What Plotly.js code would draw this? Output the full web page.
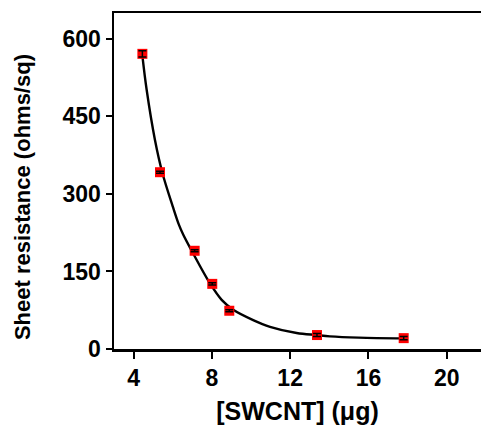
<!DOCTYPE html>
<html><head><meta charset="utf-8">
<script src="https://cdn.plot.ly/plotly-3.0.1.min.js"></script>
<style>html,body{margin:0;padding:0;overflow:hidden;background:#fff}</style>
</head><body>
<div id="chart" style="width:481px;height:429px"></div>
<script>
// Measured points
const swcnt = [4.45, 5.35, 7.12, 8.02, 8.89, 13.37, 17.8];
const resistance = [571, 342, 190, 126, 74, 27, 21];
const errs = [6, 2, 2, 2, 2, 3, 3];
// Fit curve
const fitX = [4.445, 4.67, 5.09, 5.47, 6.0, 6.32, 6.54, 6.97, 7.9, 8.5, 9.09, 10.11, 10.97, 12.33, 13.35, 14.03, 15.5, 17.8];
const fitY = [569, 501, 405, 341, 276, 240, 221, 190, 127, 95, 76, 56, 43, 31, 27, 24.5, 22, 20.5];
const xTicks = [4, 8, 12, 16, 20];
const yTicks = [0, 150, 300, 450, 600];

const fam = 'Liberation Sans, Arial, sans-serif';
const tickFont = {family: fam, size: 23, color: '#000', weight: 'bold'};
const xTitleFont = {family: fam, size: 25, color: '#000', weight: 'bold'};
const yTitleFont = {family: fam, size: 22, color: '#000', weight: 'bold'};

const traces = [
  {x: fitX, y: fitY, mode: 'lines', type: 'scatter', line: {color: '#000', width: 2.4, shape: 'spline', smoothing: 1}, hoverinfo: 'skip'},
  {x: swcnt, y: resistance, mode: 'markers', type: 'scatter',
   marker: {symbol: 'square', size: 10, color: '#ff0000', line: {width: 0}}},
  {x: swcnt, y: resistance, mode: 'markers', type: 'scatter',
   marker: {size: 1, color: 'rgba(0,0,0,0)'},
   error_y: {type: 'data', array: errs, visible: true, color: '#000', thickness: 1.5, width: 4}}
];

const layout = {
  width: 481, height: 429,
  margin: {l: 114, r: 0, t: 13, b: 80},
  paper_bgcolor: '#fff', plot_bgcolor: '#fff',
  showlegend: false,
  font: tickFont,
  xaxis: {
    range: [3, 21.75], tickvals: xTicks, ticktext: xTicks.map(String),
    showgrid: false, zeroline: false, showline: true, linecolor: '#000', linewidth: 2.5, mirror: true,
    ticks: 'outside', ticklen: 7, tickwidth: 2, tickcolor: '#000',
    tickfont: tickFont,
    title: {text: '[SWCNT] (μg)', font: xTitleFont, standoff: 13}
  },
  yaxis: {
    range: [0, 650], tickvals: yTicks, ticktext: yTicks.map(String),
    showgrid: false, zeroline: false, showline: true, linecolor: '#000', linewidth: 2.5,
    ticks: 'outside', ticklen: 6, tickwidth: 2, tickcolor: '#000',
    tickfont: tickFont
  },
  annotations: [{
    text: 'Sheet resistance (ohms/sq)', xref: 'paper', yref: 'paper',
    x: -0.2507, y: 0.452, textangle: -90, showarrow: false, font: yTitleFont,
    xanchor: 'center', yanchor: 'middle'
  }]
};
Plotly.newPlot('chart', traces, layout, {displayModeBar: false, staticPlot: true});
</script>
</body></html>
